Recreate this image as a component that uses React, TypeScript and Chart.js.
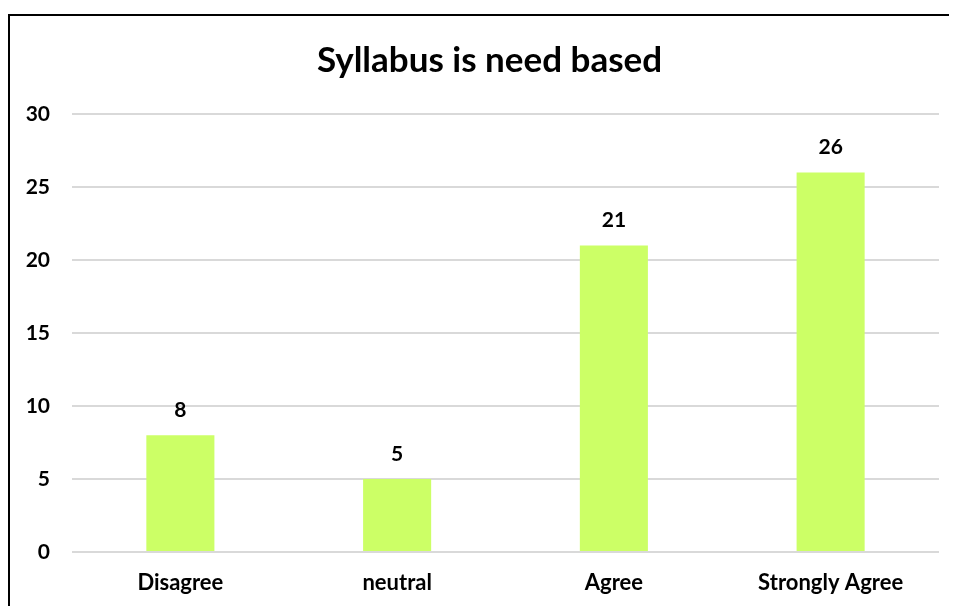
import React, { useEffect, useRef } from "react";
import { Chart, registerables } from "chart.js";

Chart.register(...registerables);

const categories = ["Disagree", "neutral", "Agree", "Strongly Agree"];
const values = [8, 5, 21, 26];
const titleText = "Syllabus is need based";
const yMin = 0;
const yMax = 30;
const yStep = 5;

const FONT = "Lato, 'Open Sans', sans-serif";

const valueLabels = {
  id: "valueLabels",
  afterDatasetsDraw(chart: any) {
    const ctx = chart.ctx;
    const meta = chart.getDatasetMeta(0);
    ctx.save();
    ctx.font = `bold 21px ${FONT}`;
    ctx.fillStyle = "#000000";
    ctx.textAlign = "center";
    ctx.textBaseline = "middle";
    meta.data.forEach((bar: any, i: number) => {
      ctx.fillText(String(values[i]), bar.x, bar.y - 25);
    });
    ctx.restore();
  },
};

const titlePlugin = {
  id: "customTitle",
  afterDraw(chart: any) {
    const ctx = chart.ctx;
    ctx.save();
    ctx.font = `bold 35px ${FONT}`;
    ctx.fillStyle = "#000000";
    ctx.textAlign = "center";
    ctx.textBaseline = "middle";
    ctx.fillText(titleText, chart.width / 2 + 7, 45);
    ctx.restore();
  },
};

export default function App() {
  const ref = useRef<HTMLCanvasElement | null>(null);
  useEffect(() => {
    if (!ref.current) return;
    const chart = new Chart(ref.current, {
      type: "bar",
      data: {
        labels: categories,
        datasets: [
          {
            data: values,
            backgroundColor: "#CCFF66",
            borderWidth: 0,
            categoryPercentage: 1,
            barPercentage: 0.314,
          },
        ],
      },
      options: {
        animation: false,
        responsive: false,
        maintainAspectRatio: false,
        layout: { padding: { left: 14, right: 16, top: 98, bottom: 0 } },
        plugins: {
          legend: { display: false },
          tooltip: { enabled: false },
          title: { display: false },
        },
        scales: {
          x: {
            grid: { display: false, drawTicks: false },
            border: { display: false },
            ticks: {
              color: "#000000",
              font: { family: FONT, size: 22, weight: "bold" },
              padding: 18,
            },
            afterFit(scale: any) {
              scale.height = 54;
            },
          },
          y: {
            min: yMin,
            max: yMax,
            ticks: {
              stepSize: yStep,
              color: "#000000",
              font: { family: FONT, size: 21, weight: "bold" },
              padding: 22,
            },
            grid: { color: "#D9D9D9", lineWidth: 2, drawTicks: false },
            border: { display: false },
            afterFit(scale: any) {
              scale.width = 48;
            },
          },
        },
      },
      plugins: [valueLabels, titlePlugin],
    });
    return () => chart.destroy();
  }, []);

  return (
    <div
      style={{
        marginTop: 6,
        width: 949,
        height: 592,
        boxSizing: "border-box",
        borderTop: "2px solid #000",
        borderLeft: "2px solid #000",
        borderRight: "2px solid #000",
        overflow: "hidden",
      }}
    >
      <canvas ref={ref} width={945} height={590} style={{ display: "block" }} />
    </div>
  );
}
